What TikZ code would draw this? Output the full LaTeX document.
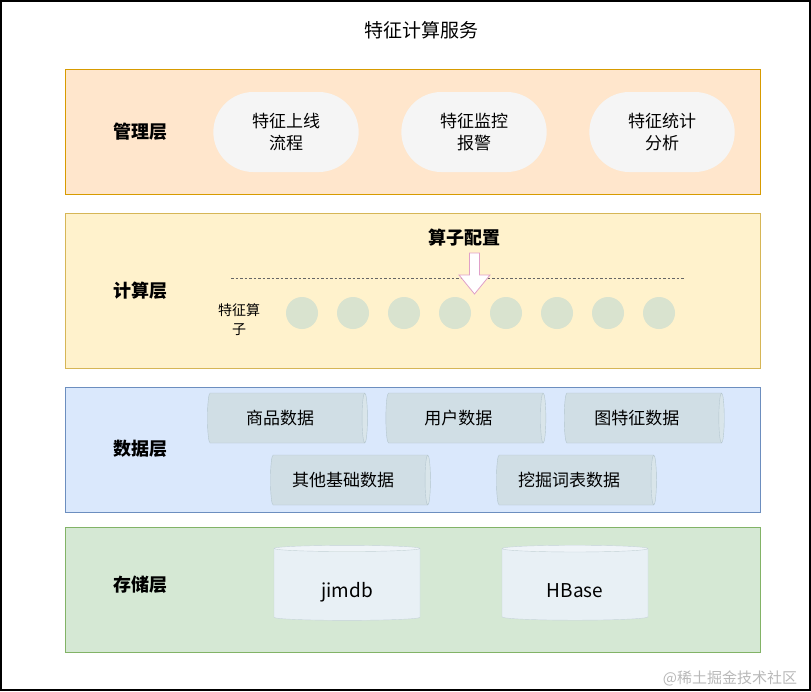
\documentclass[tikz,border=0pt]{standalone}
\usepackage{fontspec}
\setmainfont{Noto Sans CJK SC}
\usetikzlibrary{shapes.geometric, shapes.misc, positioning}

\definecolor{mgmtFill}{HTML}{FFE6CC}
\definecolor{mgmtLine}{HTML}{D79B00}
\definecolor{calcFill}{HTML}{FFF2CC}
\definecolor{calcLine}{HTML}{D6B656}
\definecolor{dataFill}{HTML}{DAE8FC}
\definecolor{dataLine}{HTML}{6C8EBF}
\definecolor{storeFill}{HTML}{D5E8D4}
\definecolor{storeLine}{HTML}{82B366}
\definecolor{pillFill}{HTML}{F5F5F5}
\definecolor{opFill}{HTML}{D9E3CF}
\definecolor{tubeFill}{HTML}{D0DEE5}
\definecolor{tubeLine}{HTML}{B4C6CE}
\definecolor{dbFill}{HTML}{E8F0F5}
\definecolor{dbLine}{HTML}{C6D3DA}
\definecolor{cfgLine}{HTML}{E0A0C8}

\begin{document}
\begin{tikzpicture}[x=1pt, y=-1pt,
  layer/.style={draw, line width=0.8pt, minimum width=695pt, minimum height=125pt, inner sep=0pt},
  tag/.style={font=\bfseries\fontsize{18}{20}\selectfont},
  pill/.style={rounded rectangle, fill=pillFill, minimum width=152pt, minimum height=80pt,
               align=center, font=\fontsize{17}{22}\selectfont},
  op/.style={circle, fill=opFill, minimum size=32pt, inner sep=0pt},
  tube/.style={cylinder, aspect=0.3, draw=tubeLine, cylinder uses custom fill,
               cylinder body fill=tubeFill, cylinder end fill=tubeFill!80!white,
               minimum height=160pt, minimum width=50pt, inner sep=0pt,
               text height=15pt, text depth=3pt},
  tubeText/.style={font=\fontsize{17}{20}\selectfont},
  store/.style={cylinder, shape border rotate=90, aspect=0.12, draw=dbLine, cylinder uses custom fill,
               cylinder body fill=dbFill, cylinder end fill=dbFill!70!white,
               minimum width=146pt, minimum height=75pt, inner sep=0pt,
               text height=30pt, text depth=4pt, font=\fontsize{19}{20}\selectfont}]
\useasboundingbox (0,0) rectangle (811,691);
\draw[line width=1.6pt] (0.8,0.8) rectangle (810.2,690.2);
\node[font=\fontsize{19}{22}\selectfont] (title) at (421,30) {特征计算服务};

% layers
\node[layer, fill=mgmtFill, draw=mgmtLine] (mgmt) at (412.5,131.5) {};
\node[layer, fill=calcFill, draw=calcLine, minimum height=155pt] (calc) at (412.5,290.5) {};
\node[layer, fill=dataFill, draw=dataLine] (data) at (412.5,449.5) {};
\node[layer, fill=storeFill, draw=storeLine] (store) at (412.5,589.5) {};

\node[tag] (mgmtTag) at (140,132) {管理层};
\node[tag] (calcTag) at (140,291) {计算层};
\node[tag] (dataTag) at (140,449) {数据层};
\node[tag] (storeTag) at (140,585) {存储层};

% management
\node[pill] (online) at (286,132) {特征上线\\流程};
\node[pill] (alarm) at (474,132) {特征监控\\报警};
\node[pill] (stats) at (662,132) {特征统计\\分析};

% compute
\node[tag] (cfg) at (464,238) {算子配置};
\draw[gray!80!black, dashed, dash pattern=on 2.5pt off 2pt] (231,278) -- (684,278);
\foreach \i in {0,...,7}
  \node[op] (op\i) at (302+51*\i,313) {};
\node[align=center, font=\fontsize{14}{19}\selectfont] (opTag) at (239,320) {特征算\\子};
\draw[cfgLine, fill=white, line width=0.8pt, line join=miter]
  (469.5,253) -- (479.5,253) -- (479.5,275) -- (490,275) -- (474.5,294)
  -- (459,275) -- (469.5,275) -- cycle;

% data
\node[tube] (goods) at (286,418) {};
\node[tube, right=18pt of goods] (user) {};
\node[tube, right=18pt of user] (graph) {};
\node[tube] (base) at (349,480) {};
\node[tube] (mining) at (575,480) {};
\foreach \t/\s in {goods/商品数据, user/用户数据, graph/图特征数据, base/其他基础数据, mining/挖掘词表数据}
  \node[tubeText] (\t Text) at ([xshift=-6pt]\t.center) {\s};

% storage
\node[store] (jimdb) at (347,584.5) {jimdb};
\node[store] (hbase) at (575,584.5) {HBase};

\node[font=\fontsize{15}{16}\selectfont, text=black!28] (mark) at (730,678) {@稀土掘金技术社区};
\end{tikzpicture}
\end{document}
